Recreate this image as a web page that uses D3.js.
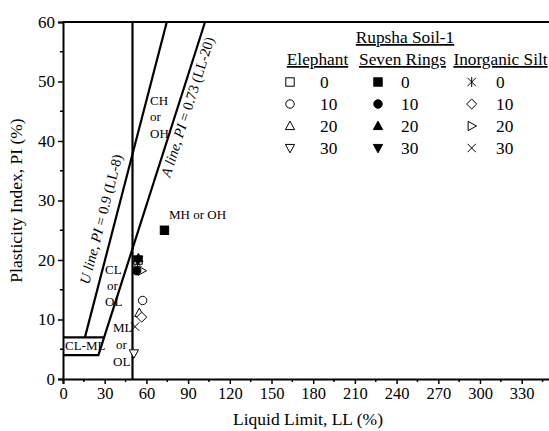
<!DOCTYPE html>
<html><head><meta charset="utf-8">
<script src="https://cdn.jsdelivr.net/npm/d3@7"></script>
</head><body style="margin:0;background:#fff">
<svg id="c" width="549" height="431"></svg>
<script>
const xTicks = [0,30,60,90,120,150,180,210,240,270,300,330];
const yTicks = [0,10,20,30,40,50,60];
const groups = ["Elephant","Seven Rings","Inorganic Silt"];
const doses = ["0","10","20","30"];
const elephantLL = [54, 57.3, 54.9, 51];
const elephantPI = [20, 13.2, 11.1, 4.3];
const sevenLL = [73, 53, 54.2, 54];
const sevenPI = [25, 18.2, 20.3, 20];
const silt_LL = [53.5, 56.6, 56.6, 51.8];
const silt_PI = [19.5, 10.4, 18.2, 8.8];
const symbolsE = ["sq","circle","tri","itri"];
const symbolsS = ["fsq","fcircle","ftri","fitri"];
const symbolsI = ["aster","diamond","rtri","x"];

const svg = d3.select("#c");
const x = d3.scaleLinear().domain([0,350]).range([63,549.5]);
const y = d3.scaleLinear().domain([0,60]).range([379,22]);

function marker(g, type, cx, cy){
  const s = 4.2;
  let el;
  switch(type){
    case "sq": case "fsq":
      el = g.append("rect").attr("x",cx-s).attr("y",cy-s).attr("width",2*s).attr("height",2*s); break;
    case "circle": case "fcircle":
      el = g.append("circle").attr("cx",cx).attr("cy",cy).attr("r",s); break;
    case "tri": case "ftri":
      el = g.append("path").attr("d",`M${cx},${cy-s*1.15}L${cx+s*1.1},${cy+s*0.85}L${cx-s*1.1},${cy+s*0.85}Z`); break;
    case "itri": case "fitri":
      el = g.append("path").attr("d",`M${cx},${cy+s*1.15}L${cx+s*1.1},${cy-s*0.85}L${cx-s*1.1},${cy-s*0.85}Z`); break;
    case "rtri":
      el = g.append("path").attr("d",`M${cx+s*1.15},${cy}L${cx-s*0.85},${cy-s*1.1}L${cx-s*0.85},${cy+s*1.1}Z`); break;
    case "diamond":
      el = g.append("path").attr("d",`M${cx},${cy-s*1.2}L${cx+s*1.2},${cy}L${cx},${cy+s*1.2}L${cx-s*1.2},${cy}Z`); break;
    case "x":
      el = g.append("path").attr("d",`M${cx-s},${cy-s}L${cx+s},${cy+s}M${cx-s},${cy+s}L${cx+s},${cy-s}`); break;
    case "aster":
      el = g.append("path").attr("d",`M${cx-s},${cy-s}L${cx+s},${cy+s}M${cx-s},${cy+s}L${cx+s},${cy-s}M${cx},${cy-s*1.2}L${cx},${cy+s*1.2}`); break;
  }
  const filled = type.startsWith("f");
  el.attr("fill", filled ? "#000" : (type==="x"||type==="aster" ? "none" : "#fff"))
    .attr("stroke", "#000").attr("stroke-width",1);
}

// lines
const lw = 2.2;
const line = d3.line().x(d=>x(d[0])).y(d=>y(d[1]));
const uLL = pi => pi/0.9 + 8;
const aLL = pi => pi/0.73 + 20;
const stroke = p => svg.append("path").attr("d", line(p)).attr("stroke","#000").attr("stroke-width",lw).attr("fill","none");
stroke([[uLL(7),7],[uLL(60),60]]);
stroke([[0,4],[aLL(4),4],[aLL(60),60]]);
stroke([[0,7],[aLL(7),7]]);
stroke([[50,0],[50,60]]);

// annotations
const ann = svg.append("g").style("font-size","13px");
const t = (xx,yy,s)=>ann.append("text").attr("x",xx).attr("y",yy).text(s);
t(150,105,"CH"); t(150,121,"or"); t(150,138,"OH");
t(105,274,"CL"); t(107,290,"or"); t(105,306,"OL");
t(113,332,"ML"); t(116,349,"or"); t(113,366,"OL");
t(65,350,"CL-ML");
t(169,219,"MH or OH");
const angA = -Math.atan((0.73*(y(0)-y(1)))/(x(1)-x(0)))*180/Math.PI;
const angU = -Math.atan((0.9*(y(0)-y(1)))/(x(1)-x(0)))*180/Math.PI;
ann.append("text").attr("transform",`translate(170,178) rotate(${angA})`).style("font-size","14.5px")
  .html('<tspan font-style="italic">A line, PI</tspan> = 0.73 (LL-20)');
ann.append("text").attr("transform",`translate(89,285) rotate(${angU})`).style("font-size","14.5px")
  .html('<tspan font-style="italic">U line, PI</tspan> = 0.9 (LL-8)');

// points
const pg = svg.append("g");
const pts = [];
elephantLL.forEach((v,i)=>pts.push([symbolsE[i], v, elephantPI[i]]));
silt_LL.forEach((v,i)=>pts.push([symbolsI[i], v, silt_PI[i]]));
sevenLL.forEach((v,i)=>pts.push([symbolsS[i], v, sevenPI[i]]));
pts.forEach(p=>marker(pg,p[0],x(p[1]),y(p[2])));

// axes
const xAxis = d3.axisBottom(x).tickValues(xTicks).tickSize(5).tickPadding(3);
const gx = svg.append("g").attr("transform",`translate(0,${y(0)})`).call(xAxis);
gx.selectAll("text").style("font-size","16.5px");
gx.append("g").selectAll("line").data(d3.range(15,350,30)).join("line")
  .attr("x1",d=>x(d)).attr("x2",d=>x(d)).attr("y1",0).attr("y2",3).attr("stroke","#000").attr("stroke-width",1.5);
const yAxis = d3.axisLeft(y).tickValues(yTicks).tickSize(5).tickPadding(3);
const gy = svg.append("g").attr("transform",`translate(${x(0)},0)`).call(yAxis);
gy.selectAll("text").style("font-size","17px");
gy.append("g").selectAll("line").data(d3.range(5,60,10)).join("line")
  .attr("x1",0).attr("x2",-3).attr("y1",d=>y(d)).attr("y2",d=>y(d)).attr("stroke","#000").attr("stroke-width",1.5);
[gx,gy].forEach(g=>{g.select(".domain").attr("stroke-width",2).attr("stroke","#000");g.selectAll(".tick line").attr("stroke-width",1.5);});
svg.append("line").attr("x1",x(0)).attr("x2",549).attr("y1",y(60)).attr("y2",y(60)).attr("stroke","#000").attr("stroke-width",2);

svg.append("text").attr("x",308).attr("y",425).attr("text-anchor","middle").style("font-size","17.5px").text("Liquid Limit, LL (%)");
svg.append("text").attr("transform",`translate(22,${(y(0)+y(60))/2}) rotate(-90)`).attr("text-anchor","middle").style("font-size","17.5px").text("Plasticity Index, PI (%)");

// legend
const lg = svg.append("g").style("font-size","17.3px");
lg.append("text").attr("x",405).attr("y",43).attr("text-anchor","middle").attr("text-decoration","underline").text("Rupsha Soil-1");
const hdrX = [317.5, 402.5, 500.5];
groups.forEach((gname,i)=>lg.append("text").attr("x",hdrX[i]).attr("y",65).attr("text-anchor","middle").attr("text-decoration","underline").text(gname));
const symX = [290, 378, 471.7];
const numX = [320, 401, 496];
const syms = [symbolsE, symbolsS, symbolsI];
doses.forEach((d,r)=>{
  const cy = 82 + r*22;
  syms.forEach((s,i)=>{
    marker(lg, s[r], symX[i], cy);
    lg.append("text").attr("x",numX[i]).attr("y",cy+6).text(d);
  });
});

svg.selectAll("text").style("font-family","'Liberation Serif'").attr("fill","#000");
</script>
</body></html>
